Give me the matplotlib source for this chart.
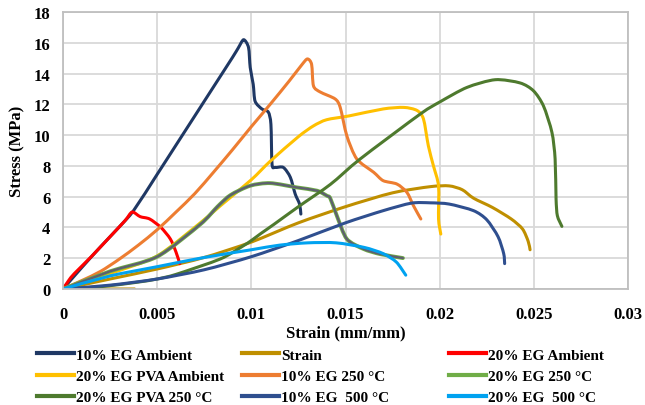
import matplotlib
matplotlib.use("Agg")
import matplotlib.pyplot as plt
from matplotlib.lines import Line2D
from matplotlib.path import Path
from matplotlib.patches import PathPatch

plt.rcParams['font.family'] = ['Liberation Serif', 'DejaVu Serif']
plt.rcParams['font.weight'] = 'bold'

# ---------------- data ----------------
eg10_amb_x = [0, 0.001, 0.002, 0.003, 0.00375, 0.005, 0.006, 0.007, 0.008, 0.009, 0.0093, 0.00959,
              0.00985, 0.00994, 0.0101, 0.0102, 0.01056, 0.0109, 0.01104, 0.0111, 0.01127, 0.0117,
              0.01207, 0.01233, 0.01256, 0.01263]
eg10_amb_y = [0, 1.4, 2.75, 4.05, 5.1, 7.45, 9.35, 11.25, 13.15, 15.05, 15.65, 16.2,
              15.7, 14.4, 13.3, 12.2, 11.7, 11.5, 10.7, 8.1, 7.9, 7.9,
              7.26, 6.17, 5.52, 4.87]

strain_x = [0, 0.0025, 0.005, 0.0075, 0.01, 0.0125, 0.015, 0.0175, 0.0195, 0.0205, 0.0212,
            0.0218, 0.0228, 0.0238, 0.0244, 0.0247, 0.0248]
strain_y = [0, 0.65, 1.3, 2.05, 3.05, 4.3, 5.35, 6.25, 6.65, 6.7, 6.45,
            5.9, 5.3, 4.55, 3.9, 3.1, 2.55]
strain_base_x = [0, 0.0038]
strain_base_y = [0, 0]

eg20_amb_x = [0, 0.0003, 0.0006, 0.0015, 0.0025, 0.0033, 0.00367, 0.0041, 0.0046, 0.0052,
              0.0057, 0.006, 0.0062]
eg20_amb_y = [0, 0.55, 1.0, 2.1, 3.4, 4.45, 5.0, 4.7, 4.55, 4.0,
              3.25, 2.4, 1.65]

pva20_amb_x = [0, 0.0025, 0.005, 0.00729, 0.00835, 0.01, 0.011, 0.0125, 0.0133, 0.014, 0.0152,
               0.017, 0.0181, 0.0188, 0.01914, 0.0194, 0.01967, 0.01994, 0.01994, 0.02006]
pva20_amb_y = [0, 1.0, 2.15, 4.3, 5.4, 7.1, 8.3, 9.9, 10.6, 11.0, 11.25,
               11.7, 11.8, 11.6, 11.05, 9.3, 8.0, 6.7, 4.55, 3.57]

eg10_250_x = [0, 0.001, 0.002, 0.003, 0.004, 0.005, 0.006, 0.007, 0.008, 0.009, 0.01, 0.011,
              0.012, 0.0127, 0.01298, 0.0132, 0.0133, 0.01366, 0.01445, 0.01472, 0.01507,
              0.0156, 0.0165, 0.017, 0.01773, 0.01826, 0.01861, 0.019]
eg10_250_y = [0, 0.55, 1.15, 1.95, 2.85, 3.85, 5.0, 6.2, 7.6, 9.05, 10.55, 12.0,
              13.5, 14.6, 14.95, 14.6, 13.2, 12.8, 12.35, 11.8, 9.96,
              8.45, 7.58, 7.04, 6.82, 6.28, 5.41, 4.55]

eg20_250_x = [0, 0.0025, 0.005, 0.00729, 0.0082, 0.00889, 0.00994, 0.011, 0.01242, 0.01348,
              0.01401, 0.01419, 0.01454, 0.01507, 0.01596, 0.01684, 0.01805]
eg20_250_y = [0, 1.15, 2.1, 4.2, 5.35, 6.1, 6.71, 6.88, 6.6, 6.39,
              6.06, 5.9, 4.76, 3.25, 2.6, 2.27, 2.01]

pva20_250_x = [0, 0.002, 0.004, 0.005, 0.006, 0.00835, 0.0095, 0.01, 0.0105, 0.0112, 0.0125,
               0.0142, 0.01578, 0.01897, 0.02003, 0.02145, 0.02295, 0.02427, 0.02498, 0.02551,
               0.02596, 0.02613, 0.02618, 0.02625, 0.02649]
pva20_250_y = [0, 0.15, 0.45, 0.65, 0.95, 1.95, 2.75, 3.15, 3.6, 4.2, 5.35,
               6.8, 8.45, 11.37, 12.17, 13.1, 13.6, 13.39, 12.88, 11.9,
               10.18, 8.45, 5.85, 4.76, 4.07]

eg10_500_x = [0, 0.0025, 0.005, 0.0075, 0.01, 0.0125, 0.015, 0.017, 0.0185, 0.0195, 0.0205,
              0.0218, 0.0225, 0.0231, 0.0234, 0.02345]
eg10_500_y = [0, 0.25, 0.65, 1.25, 2.1, 3.15, 4.3, 5.09, 5.58, 5.6, 5.52,
              5.09, 4.5, 3.4, 2.3, 1.65]

eg20_500_x = [0, 0.0025, 0.005, 0.0075, 0.01, 0.0115, 0.013, 0.0145, 0.016, 0.017, 0.0177, 0.0182]
eg20_500_y = [0, 0.85, 1.45, 2.05, 2.55, 2.85, 3.0, 3.0, 2.7, 2.3, 1.75, 0.9]

x_ticks = [0, 0.005, 0.01, 0.015, 0.02, 0.025, 0.03]
x_tick_labels = ['0', '0.005', '0.01', '0.015', '0.02', '0.025', '0.03']
y_ticks = [0, 2, 4, 6, 8, 10, 12, 14, 16, 18]


def smooth_line(ax, xs, ys, color, lw, zorder=2):
    """Draw a smoothed (Excel-like) line through the points using cubic Bezier segments."""
    n = len(xs)
    verts = [(xs[0], ys[0])]
    codes = [Path.MOVETO]
    t = 0.8 / 6.0
    for i in range(n - 1):
        x0, y0 = xs[max(i - 1, 0)], ys[max(i - 1, 0)]
        x1, y1 = xs[i], ys[i]
        x2, y2 = xs[i + 1], ys[i + 1]
        x3, y3 = xs[min(i + 2, n - 1)], ys[min(i + 2, n - 1)]
        c1 = (x1 + (x2 - x0) * t, y1 + (y2 - y0) * t)
        c2 = (x2 - (x3 - x1) * t, y2 - (y3 - y1) * t)
        verts += [c1, c2, (x2, y2)]
        codes += [Path.CURVE4] * 3
    patch = PathPatch(Path(verts, codes), facecolor='none', edgecolor=color, lw=lw,
                      capstyle='round', joinstyle='round', zorder=zorder)
    ax.add_patch(patch)


# ---------------- figure ----------------
fig = plt.figure(figsize=(6.45, 4.06), dpi=100)
ax = fig.add_axes([63/645, 1-290/406, (628-63)/645, (290-13)/406])

lw = 2.2
c_navy = '#1F3864'
c_strain = '#BF8F00'
c_red = '#FF0000'
c_yellow = '#FFC000'
c_orange = '#ED7D31'
c_green = '#70AD47'
c_dgreen = '#4E7A2E'
c_blue = '#2F4F8F'
c_lblue = '#00A2F0'
c_gray = '#5E5E70'

smooth_line(ax, eg10_amb_x, eg10_amb_y, c_navy, lw)
smooth_line(ax, strain_x, strain_y, c_strain, lw)
smooth_line(ax, strain_base_x, strain_base_y, c_strain, lw)
smooth_line(ax, eg20_amb_x, eg20_amb_y, c_red, lw)
smooth_line(ax, pva20_amb_x, pva20_amb_y, c_yellow, lw)
smooth_line(ax, eg10_250_x, eg10_250_y, c_orange, lw)
smooth_line(ax, eg20_250_x, eg20_250_y, c_green, lw + 0.6)
smooth_line(ax, eg20_250_x, eg20_250_y, c_gray, lw - 0.6)
smooth_line(ax, pva20_250_x, pva20_250_y, c_dgreen, lw)
smooth_line(ax, eg10_500_x, eg10_500_y, c_blue, lw)
smooth_line(ax, eg20_500_x, eg20_500_y, c_lblue, lw)

ax.set_xlim(0, 0.03)
ax.set_ylim(0, 18)
ax.set_xticks(x_ticks)
ax.set_xticklabels(x_tick_labels)
ax.set_yticks(y_ticks)
ax.grid(True, color='#D9D9D9', lw=1.3)
ax.set_axisbelow(True)
for s in ax.spines.values():
    s.set_color('#BFBFBF')
    s.set_linewidth(1.3)
ax.tick_params(length=0, labelsize=12, pad=9)
ax.tick_params(axis='x', pad=12)
for lab in ax.get_xticklabels() + ax.get_yticklabels():
    lab.set_fontweight('bold')
ax.set_xlabel('Strain (mm/mm)', fontsize=12, fontweight='bold', labelpad=2)
ax.set_ylabel('Stress (MPa)', fontsize=12, fontweight='bold', labelpad=6)

# ---------------- legend (three columns) ----------------
cols = [
    [('10% EG Ambient', c_navy), ('20% EG PVA Ambient', c_yellow), ('20% EG PVA 250 °C', c_dgreen)],
    [('Strain', c_strain), ('10% EG 250 °C', c_orange), ('10% EG  500 °C', c_blue)],
    [('20% EG Ambient', c_red), ('20% EG 250 °C', c_green), ('20% EG  500 °C', c_lblue)],
]
col_x = [37/645, 242/645, 449/645]
for cx, col in zip(col_x, cols):
    handles = [Line2D([], [], color=c, lw=3) for _, c in col]
    labels = [t for t, _ in col]
    fig.legend(handles, labels, loc='upper left', bbox_to_anchor=(cx, 1-349/406),
               frameon=False, prop={'weight': 'bold', 'size': 11},
               handlelength=2.4, handletextpad=0.15, labelspacing=0.5,
               borderaxespad=0, borderpad=0)

fig.savefig('out.png', dpi=100)
